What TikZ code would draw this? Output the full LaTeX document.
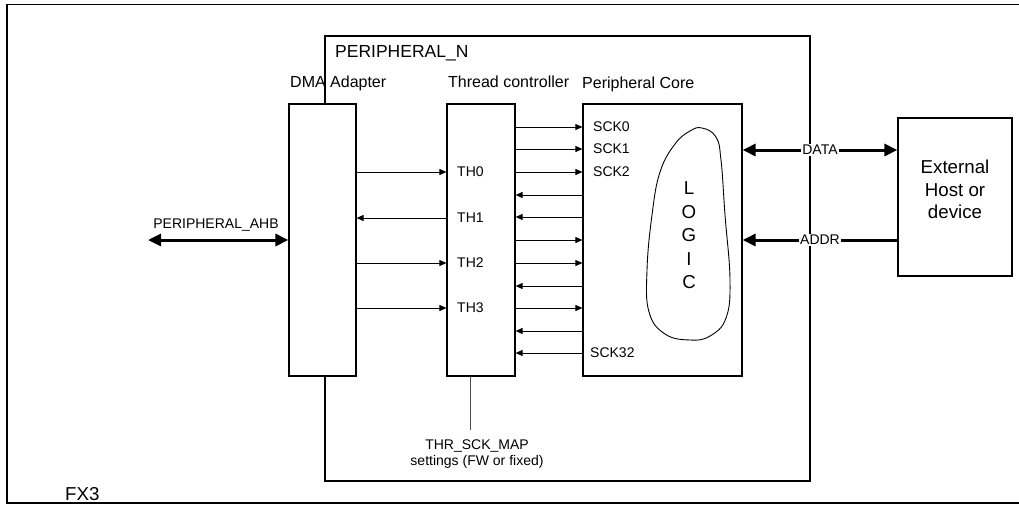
\documentclass[tikz,border=0pt]{standalone}
\usepackage{fontspec}
\setmainfont{Liberation Sans}
\usetikzlibrary{arrows.meta}
\tikzset{
  box_n/.style = {draw=black, line width=1.2pt, inner sep=0pt},
  lbl_n/.style = {inner sep=0pt, font=\fontsize{14}{16}\selectfont},
  head_n/.style = {inner sep=0pt, font=\fontsize{16}{19}\selectfont},
  big_n/.style = {inner sep=0pt, font=\fontsize{18.7}{22.5}\selectfont},
  smalltip/.tip = {Triangle[length=7pt,width=6pt]},
  bigtip/.tip = {Triangle[length=13pt,width=12pt]},
  sig/.style = {line width=0.9pt, -smalltip},
  bus/.style = {line width=3pt, bigtip-bigtip},
}
\begin{document}
\begin{tikzpicture}[x=1pt,y=-1pt]
  \useasboundingbox (0,0) rectangle (1019,504);
  % FX3 frame
  \draw[line width=1.2pt] (1019,4.5) -- (7,4.5) -- (7,503) -- (1019,503);
  \node[big_n, anchor=base west] (fx3) at (65,500) {FX3};

  \node[box_n, minimum width=485pt, minimum height=445pt] (per) at (567.5,258.5) {};
  \node[inner sep=0pt, font=\fontsize{17.5}{20}\selectfont, anchor=base west]
      (per_t) at (335,57) {PERIPHERAL\_N};

  \node[box_n, fill=white, minimum width=67pt, minimum height=272pt] (dma) at (322.5,240) {};
  \node[box_n, fill=white, minimum width=68pt, minimum height=272pt] (thr) at (481,240) {};
  \node[box_n, fill=white, minimum width=159pt, minimum height=272pt] (core) at (662.5,240) {};
  \node[box_n, minimum width=114pt, minimum height=158pt] (ext) at (955,197) {};
  \node[head_n, anchor=base west] (dma_t) at (290,87) {DMA Adapter};
  \node[head_n, anchor=base west] (thr_t) at (448,87) {Thread controller};
  \node[head_n, anchor=base west] (core_t) at (582,88) {Peripheral Core};
  \node[big_n, align=center] (ext_t) at (955,189.5) {External\\Host or\\device};

  % threads
  \foreach \i/\y in {0/172,1/218,2/263,3/308}
    \node[lbl_n, anchor=west] (th\i) at (457,\y) {TH\i};
  \foreach \i in {0,2,3}
    \draw[sig] (dma.east |- th\i) -- (thr.west |- th\i);
  \draw[sig] (thr.west |- th1) -- (dma.east |- th1);

  % sockets
  \node[lbl_n, anchor=west] (sck0) at (593,127) {SCK0};
  \node[lbl_n, anchor=west] (sck1) at (593,149) {SCK1};
  \node[lbl_n, anchor=west] (sck2) at (593,172) {SCK2};
  \node[lbl_n, anchor=west] (sck32) at (590,353) {SCK32};
  \foreach \y in {127,149,172,240,263,308}
    \draw[sig] (thr.east |- 0,\y) -- (core.west |- 0,\y);
  \foreach \y in {195,217,286,331,353}
    \draw[sig] (core.west |- 0,\y) -- (thr.east |- 0,\y);

  % logic blob
  \draw[line width=0.9pt] plot[smooth cycle, tension=0.7] coordinates {
    (702,128) (716,137) (721,160) (725,215) (730,280) (726,318) (710,336)
    (690,340) (665,334) (649,312) (647,270) (652,215) (660,172) (675,144) (690,131)};
  \foreach \c [count=\k] in {L,O,G,I,C}
    \node[big_n, anchor=base] (logic_\k) at (689,{194.7+23.5*(\k-1)}) {\c};

  % external buses
  \draw[bus] (core.east |- 0,150) -- node[lbl_n, fill=white, inner sep=1pt] (data) {DATA}
      (ext.west |- 0,150);
  \draw[bus, bigtip-] (core.east |- 0,240) -- node[lbl_n, fill=white, inner sep=1pt] (addr) {ADDR}
      (ext.west |- 0,240);

  \coordinate (ahb_end) at (148,240);
  \node[lbl_n, anchor=base] (ahb) at (216,228) {PERIPHERAL\_AHB};
  \draw[bus] (ahb_end) -- (dma.west |- ahb_end);

  \coordinate (map_top) at (470,430);
  \draw[line width=0.9pt, black!70] (thr.south -| map_top) -- (map_top);
  \node[lbl_n, align=center, anchor=base] (map) at (477,465)
      {THR\_SCK\_MAP\\settings (FW or fixed)};
\end{tikzpicture}
\end{document}
